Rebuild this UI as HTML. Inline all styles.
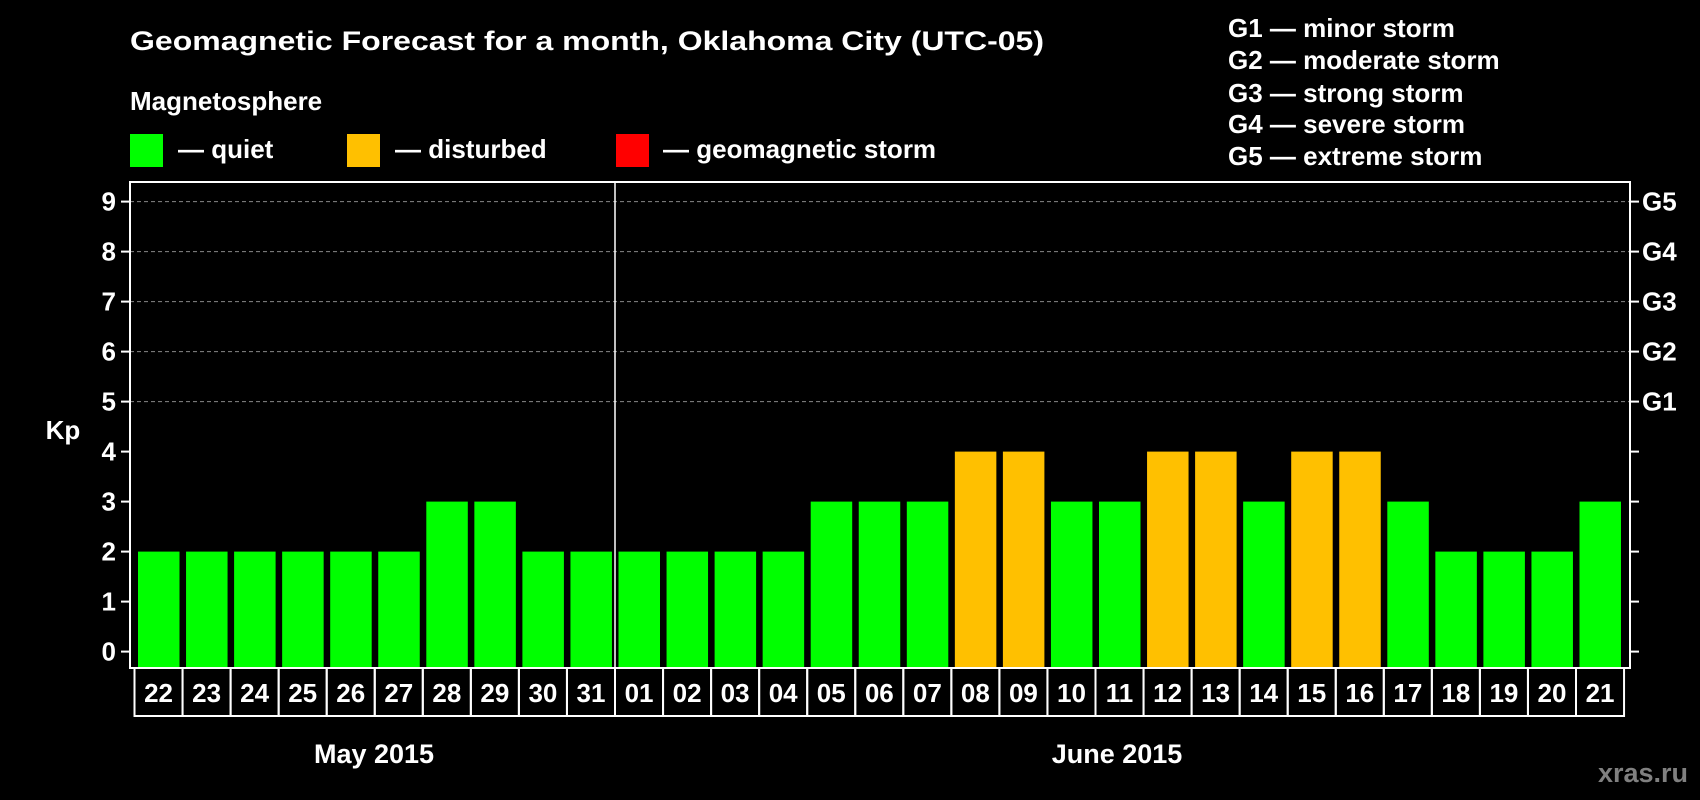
<!DOCTYPE html>
<html><head><meta charset="utf-8"><style>
html,body{margin:0;padding:0;background:#000;}
svg{display:block;font-family:"Liberation Sans",Arial,sans-serif;font-weight:bold;}
</style></head><body>
<svg id="chart" width="1700" height="800" viewBox="0 0 1700 800">
<rect x="0" y="0" width="1700" height="800" fill="#000"/>
<text x="130" y="50" fill="#fff" font-size="27" textLength="914" lengthAdjust="spacingAndGlyphs">Geomagnetic Forecast for a month, Oklahoma City (UTC-05)</text>
<text x="130" y="110" fill="#fff" font-size="26">Magnetosphere</text>
<g>
<rect x="130" y="134" width="33" height="33" fill="#00ff00"/>
<text x="178" y="158" fill="#fff" font-size="26">— quiet</text></g>
<g>
<rect x="347" y="134" width="33" height="33" fill="#ffc000"/>
<text x="395" y="158" fill="#fff" font-size="26">— disturbed</text></g>
<g>
<rect x="616" y="134" width="33" height="33" fill="#ff0000"/>
<text x="663" y="158" fill="#fff" font-size="26">— geomagnetic storm</text></g>
<g font-size="26" fill="#fff">
<text x="1228" y="37">G1 — minor storm</text>
<text x="1228" y="69">G2 — moderate storm</text>
<text x="1228" y="102">G3 — strong storm</text>
<text x="1228" y="133">G4 — severe storm</text>
<text x="1228" y="165">G5 — extreme storm</text>
</g>
<text x="63" y="439" fill="#fff" font-size="26" text-anchor="middle">Kp</text>
<g id="grid"></g><g id="bars"></g><g id="axes"></g><g id="xlabels"></g>
<text x="374" y="763" fill="#fff" font-size="27" text-anchor="middle">May 2015</text>
<text x="1117" y="763" fill="#fff" font-size="27" text-anchor="middle">June 2015</text>
<text x="1688" y="782" fill="#808080" font-size="27" text-anchor="end">xras.ru</text>
</svg>
<script>
const days = ["22","23","24","25","26","27","28","29","30","31","01","02","03","04","05","06","07","08","09","10","11","12","13","14","15","16","17","18","19","20","21"];
const kpValues = [2,2,2,2,2,2,3,3,2,2,2,2,2,2,3,3,3,4,4,3,3,4,4,3,4,4,3,2,2,2,3];
const yTicks = [0,1,2,3,4,5,6,7,8,9];
const gLabels = {5:"G1",6:"G2",7:"G3",8:"G4",9:"G5"};
const NS="http://www.w3.org/2000/svg";
const plotL=130, plotR=1630, plotT=182, plotB=668, y0=651.6, unit=50.0;
const boxL=134.5, boxW=48.05, boxT=668, boxB=716;
function yS(v){return y0-v*unit;}
function xS(i){return boxL+i*boxW;}
function mk(tag,attrs,parent){const e=document.createElementNS(NS,tag);for(const k in attrs)e.setAttribute(k,attrs[k]);parent.appendChild(e);return e;}
function color(v){return v>=5?"#ff0000":v>=4?"#ffc000":"#00ff00";}
const grid=document.getElementById('grid'), bars=document.getElementById('bars'), axes=document.getElementById('axes'), xl=document.getElementById('xlabels');
yTicks.forEach(t=>{
  if(t>=5){const g=mk('line',{x1:plotL,x2:plotR,y1:yS(t),y2:yS(t),stroke:'#888','stroke-width':1,'stroke-dasharray':'4,3'},grid);
  
  }
  const tl=mk('line',{x1:plotL-9,x2:plotL,y1:yS(t),y2:yS(t),stroke:'#fff','stroke-width':2},axes);
  
  
  const tr=mk('line',{x1:plotR,x2:plotR+9,y1:yS(t),y2:yS(t),stroke:'#fff','stroke-width':2},axes);
  
  
  const lab=mk('text',{x:116,y:yS(t)+9,fill:'#fff','font-size':26,'text-anchor':'end'},axes);
  lab.textContent=t;
  
  
  if(gLabels[t]){const gl=mk('text',{x:1642,y:yS(t)+9,fill:'#fff','font-size':26},axes);
  gl.textContent=gLabels[t];
  
  }
});
kpValues.forEach((v,i)=>{
  const b=mk('rect',{x:xS(i)+3.5,y:yS(v),width:41.5,height:plotB-yS(v),fill:color(v)},bars);
  
  
  const bx=mk('rect',{x:xS(i),y:boxT,width:boxW,height:boxB-boxT,fill:'none',stroke:'#fff','stroke-width':2},xl);
  
  
  const t=mk('text',{x:xS(i)+boxW/2,y:boxT+34,fill:'#fff','font-size':26,'text-anchor':'middle'},xl);
  t.textContent=days[i];
  
  
});
const fr=mk('rect',{x:plotL,y:plotT,width:plotR-plotL,height:plotB-plotT,fill:'none',stroke:'#fff','stroke-width':2},axes);


const dv=mk('line',{x1:xS(10),x2:xS(10),y1:plotT,y2:plotB,stroke:'#fff','stroke-width':1.5},axes);


</script>
</body></html>
